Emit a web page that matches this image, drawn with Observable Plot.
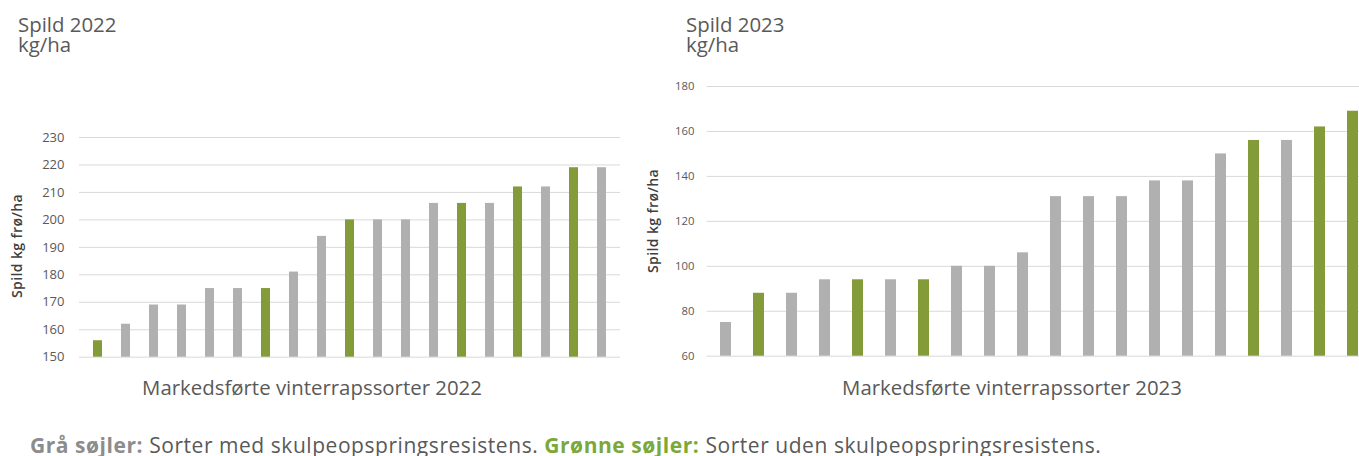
<!DOCTYPE html>
<html><head><meta charset="utf-8">
<script src="https://cdn.jsdelivr.net/npm/d3@7"></script>
<script src="https://cdn.jsdelivr.net/npm/@observablehq/plot@0.6"></script>
<style>
body{margin:0;background:#fff;}
#wrap{position:relative;width:1359px;height:456px;overflow:hidden;font-family:"Open Sans",sans-serif;color:#595959;}
.abs{position:absolute;white-space:nowrap;}
.title{font-size:20.4px;line-height:20px;}
.xlab{font-size:20.4px;line-height:20px;transform:translateX(-50%);}
.ylab{font-size:14px;font-weight:600;color:#404040;letter-spacing:0.4px;transform:translate(-50%,-50%) rotate(-90deg);line-height:16px;}
.cap{font-size:21px;line-height:20px;letter-spacing:0.55px;}
.svgbox{position:absolute;top:0;}
.svgbox svg{max-width:none !important;}
</style></head><body><div id="wrap"></div>
<script>
// ---- data ----
const sorter2022 = ["1","2","3","4","5","6","7","8","9","10","11","12","13","14","15","16","17","18","19"];
const spild2022 = [156,162,169,169,175,175,175,181,194,200,200,200,206,206,206,212,212,219,219];
const type2022 = ["uden","med","med","med","med","med","uden","med","med","uden","med","med","med","uden","med","uden","med","uden","med"];
const ticks2022 = [150,160,170,180,190,200,210,220,230];

const sorter2023 = ["1","2","3","4","5","6","7","8","9","10","11","12","13","14","15","16","17","18","19","20"];
const spild2023 = [75,88,88,94,94,94,94,100,100,106,131,131,131,138,138,150,156,156,162,169];
const type2023 = ["med","uden","med","med","uden","med","uden","med","med","med","med","med","med","med","med","med","uden","med","uden","uden"];
const ticks2023 = [60,80,100,120,140,160,180];

const colorDomain = ["med","uden"];
const colorRange = ["#b0b0b0","#849b39"];

function chart(cats, vals, types, ticks, o) {
  const data = cats.map((c, i) => ({c, v: vals[i], t: types[i]}));
  return Plot.plot({
    width: o.width, height: o.height,
    marginTop: o.mt, marginBottom: o.mb, marginLeft: o.ml, marginRight: o.mr,
    style: {fontFamily: "Open Sans", fontSize: o.fs + "px", color: "#595959", background: "transparent", overflow: "visible", maxWidth: "none"},
    x: {domain: cats, paddingInner: o.pad, paddingOuter: o.pad / 2, axis: null},
    y: {domain: [ticks[0], ticks[ticks.length - 1]]},
    color: {domain: colorDomain, range: colorRange},
    marks: [
      Plot.gridY(ticks, {stroke: "#d9d9d9", strokeOpacity: 1, strokeWidth: 1}),
      Plot.axisY(ticks, {tickSize: 0, tickPadding: o.tp, label: null, fill: "#595959"}),
      Plot.barY(data, {x: "c", y1: ticks[0], y2: "v", fill: "t"})
    ]
  });
}

const wrap = document.getElementById("wrap");
function add(html, cls, style) {
  const d = document.createElement("div");
  d.className = "abs " + cls;
  d.innerHTML = html;
  Object.assign(d.style, style);
  wrap.appendChild(d);
  return d;
}

const left = chart(sorter2022, spild2022, type2022, ticks2022,
  {width: 640, height: 400, mt: 137, mb: 43.3, ml: 79, mr: 20, fs: 13, pad: 0.684, tp: 15});
const lb = document.createElement("div"); lb.className = "svgbox"; lb.style.left = "0px"; lb.appendChild(left); wrap.appendChild(lb);

const right = chart(sorter2023, spild2023, type2023, ticks2023,
  {width: 760, height: 400, mt: 86, mb: 44.3, ml: 66.7, mr: 29.3, fs: 11.3, pad: 0.67, tp: 12.7});
const rb = document.createElement("div"); rb.className = "svgbox"; rb.style.left = "640px"; rb.appendChild(right); wrap.appendChild(rb);

add("Spild 2022", "title", {left: "18px", top: "14px"});
add("kg/ha", "title", {left: "18px", top: "34px"});
add("Spild 2023", "title", {left: "686px", top: "14px"});
add("kg/ha", "title", {left: "686px", top: "34px"});
add("Spild kg frø/ha", "ylab", {left: "17px", top: "246px"});
add("Spild kg frø/ha", "ylab", {left: "653px", top: "221px"});
add("Markedsførte vinterrapssorter 2022", "xlab", {left: "312px", top: "377px"});
add("Markedsførte vinterrapssorter 2023", "xlab", {left: "1012px", top: "377px"});
add('<b style="color:#8c8c8c;font-weight:700">Grå søjler:</b> Sorter med skulpeopspringsresistens. <b style="color:#7aa83a;font-weight:700">Grønne søjler:</b> Sorter uden skulpeopspringsresistens.', "cap", {left: "30px", top: "435px"});
</script></body></html>
